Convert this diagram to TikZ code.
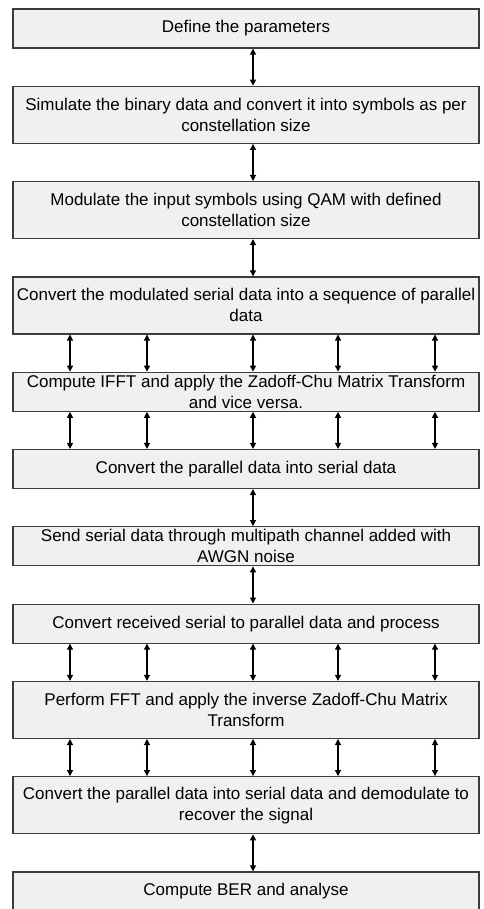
\documentclass[tikz,border=0pt]{standalone}
\usepackage{fontspec}
\setmainfont{Liberation Sans}
\usetikzlibrary{positioning,arrows.meta}
\definecolor{boxfill}{HTML}{F0F0F0}
\definecolor{boxline}{HTML}{3C3C3C}
\begin{document}
\begin{tikzpicture}[x=1pt, y=1pt, node distance=37.1pt,
    box/.style={draw=boxline, line width=1.2pt, fill=boxfill, rectangle, minimum width=466pt, minimum height=39pt, inner xsep=2pt, inner ysep=0pt, align=center, font=\fontsize{17}{21}\selectfont},
    tall/.style={minimum height=57pt},
    link/.style={{Triangle[width=6pt,length=6pt]}-{Triangle[width=6pt,length=6pt]}, line width=1.1pt}]
    \clip (0,0) rectangle (483,-909);
    \node[box] (param) at (246,-28.5) {Define the parameters};
    \node[box, tall, below=of param] (binary) {Simulate the binary data and convert it into symbols as per\\constellation size};
    \node[box, tall, below=of binary] (qam) {Modulate the input symbols using QAM with defined\\constellation size};
    \node[box, tall, below=of qam] (s2p) {Convert the modulated serial data into a sequence of parallel\\data};
    \node[box, below=of s2p] (ifft) {Compute IFFT and apply the Zadoff-Chu Matrix Transform\\and vice versa.};
    \node[box, below=of ifft] (p2s) {Convert the parallel data into serial data};
    \node[box, below=of p2s] (channel) {Send serial data through multipath channel added with\\AWGN noise};
    \node[box, below=of channel] (rxs2p) {Convert received serial to parallel data and process};
    \node[box, tall, below=of rxs2p] (fft) {Perform FFT and apply the inverse Zadoff-Chu Matrix\\Transform};
    \node[box, tall, below=of fft] (demod) {Convert the parallel data into serial data and demodulate to\\recover the signal};
    \node[box, below=of demod] (ber) {Compute BER and analyse};

    \draw[link] ([xshift=7pt]param.south) -- ([xshift=7pt]binary.north);
    \draw[link] ([xshift=7pt]binary.south) -- ([xshift=7pt]qam.north);
    \draw[link] ([xshift=7pt]qam.south) -- ([xshift=7pt]s2p.north);
    \foreach \dx in {-176,-99,7,92,189}
        \draw[link] ([xshift=\dx pt]s2p.south) -- ([xshift=\dx pt]ifft.north);
    \foreach \dx in {-176,-99,7,92,189}
        \draw[link] ([xshift=\dx pt]ifft.south) -- ([xshift=\dx pt]p2s.north);
    \draw[link] ([xshift=7pt]p2s.south) -- ([xshift=7pt]channel.north);
    \draw[link] ([xshift=7pt]channel.south) -- ([xshift=7pt]rxs2p.north);
    \foreach \dx in {-176,-99,7,92,189}
        \draw[link] ([xshift=\dx pt]rxs2p.south) -- ([xshift=\dx pt]fft.north);
    \foreach \dx in {-176,-99,7,92,189}
        \draw[link] ([xshift=\dx pt]fft.south) -- ([xshift=\dx pt]demod.north);
    \draw[link] ([xshift=7pt]demod.south) -- ([xshift=7pt]ber.north);
\end{tikzpicture}
\end{document}
